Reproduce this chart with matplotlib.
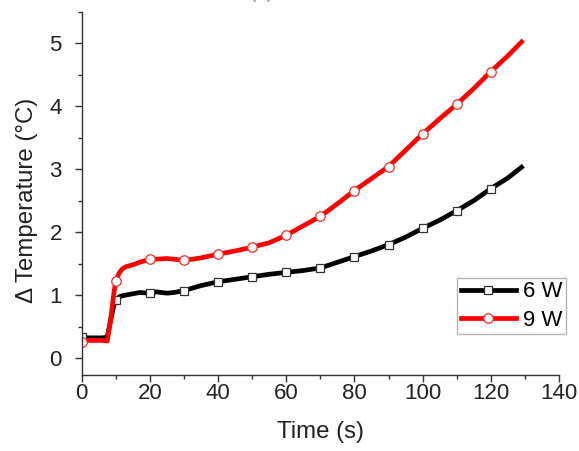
import matplotlib
matplotlib.use("Agg")
import matplotlib.pyplot as plt
from matplotlib.ticker import MultipleLocator

plt.rcParams['font.family'] = ['Liberation Sans', 'DejaVu Sans']

time_s = [0, 2, 4, 6, 7.5, 8.5, 9.5, 10, 11, 12, 13, 15, 17, 20, 22, 25, 27, 30,
          35, 40, 45, 50, 55, 60, 65, 70, 75, 80, 85, 90, 95, 100, 105, 110,
          115, 120, 125, 129]
temp_6w = [0.33, 0.32, 0.32, 0.32, 0.33, 0.60, 0.85, 0.92, 0.97, 0.99, 1.00, 1.02,
           1.04, 1.03, 1.05, 1.03, 1.04, 1.07, 1.15, 1.21, 1.25, 1.29, 1.33, 1.36,
           1.39, 1.43, 1.52, 1.61, 1.70, 1.80, 1.92, 2.06, 2.19, 2.34, 2.50, 2.69,
           2.86, 3.03]
temp_9w = [0.25, 0.28, 0.28, 0.28, 0.27, 0.60, 1.05, 1.22, 1.35, 1.42, 1.45, 1.48,
           1.52, 1.57, 1.57, 1.58, 1.57, 1.55, 1.59, 1.65, 1.70, 1.76, 1.83, 1.95,
           2.10, 2.25, 2.45, 2.66, 2.85, 3.04, 3.30, 3.56, 3.80, 4.03, 4.28, 4.55,
           4.80, 5.02]
labels = ['6 W', '9 W']

mark_idx = [i for i, t in enumerate(time_s) if t % 10 == 0]

fig = plt.figure(figsize=(5.79, 4.51), dpi=100)
ax = fig.add_axes([0.141, 0.1685, 0.8245, 0.8055])

ax.plot(time_s, temp_6w, color='black', lw=3.4, marker='s', ms=5.8,
        mfc='white', mec='#333333', mew=0.9, markevery=mark_idx, label=labels[0])
ax.plot(time_s, temp_9w, color='#ff0000', lw=3.4, marker='o', ms=6.8,
        mfc='white', mec='#e83030', mew=0.9, markevery=mark_idx, label=labels[1])

ax.set_xlim(0, 140)
ax.set_ylim(-0.27, 5.5)
ax.xaxis.set_major_locator(MultipleLocator(20))
ax.xaxis.set_minor_locator(MultipleLocator(10))
ax.yaxis.set_major_locator(MultipleLocator(1))
ax.yaxis.set_minor_locator(MultipleLocator(0.5))
for s in ['top', 'right']:
    ax.spines[s].set_visible(False)
for s in ['left', 'bottom']:
    ax.spines[s].set_color('#333333')
    ax.spines[s].set_linewidth(1.0)
ax.tick_params(which='major', direction='out', length=4.8, width=1.0,
               labelsize=16, colors='#333333', labelcolor='#222222')
ax.tick_params(which='minor', direction='out', length=3.0, width=1.0, colors='#333333')
ax.tick_params(axis='x', which='major', pad=1.0)
ax.tick_params(axis='y', which='major', pad=9.5)

ax.set_xlabel('Time (s)', fontsize=17.3, color='#222222', labelpad=12)
ax.set_ylabel('\u0394 Temperature (\u00b0C)', fontsize=17.3, color='#222222')
ax.yaxis.set_label_coords(-0.092, 0.482)

leg = ax.legend(loc='lower right', bbox_to_anchor=(1.014, 0.113), borderaxespad=0,
                fontsize=16, frameon=True, fancybox=False, edgecolor='#a0a0a0',
                handlelength=2.5, handletextpad=0.3, labelspacing=0.33,
                borderpad=0.15)
leg.get_frame().set_linewidth(1.0)

fig.text(0.452, 1.0 + 1.5 / 451, '(a)', fontsize=14, color='#888888',
         ha='center', va='baseline')

fig.savefig('out.png', dpi=100)
